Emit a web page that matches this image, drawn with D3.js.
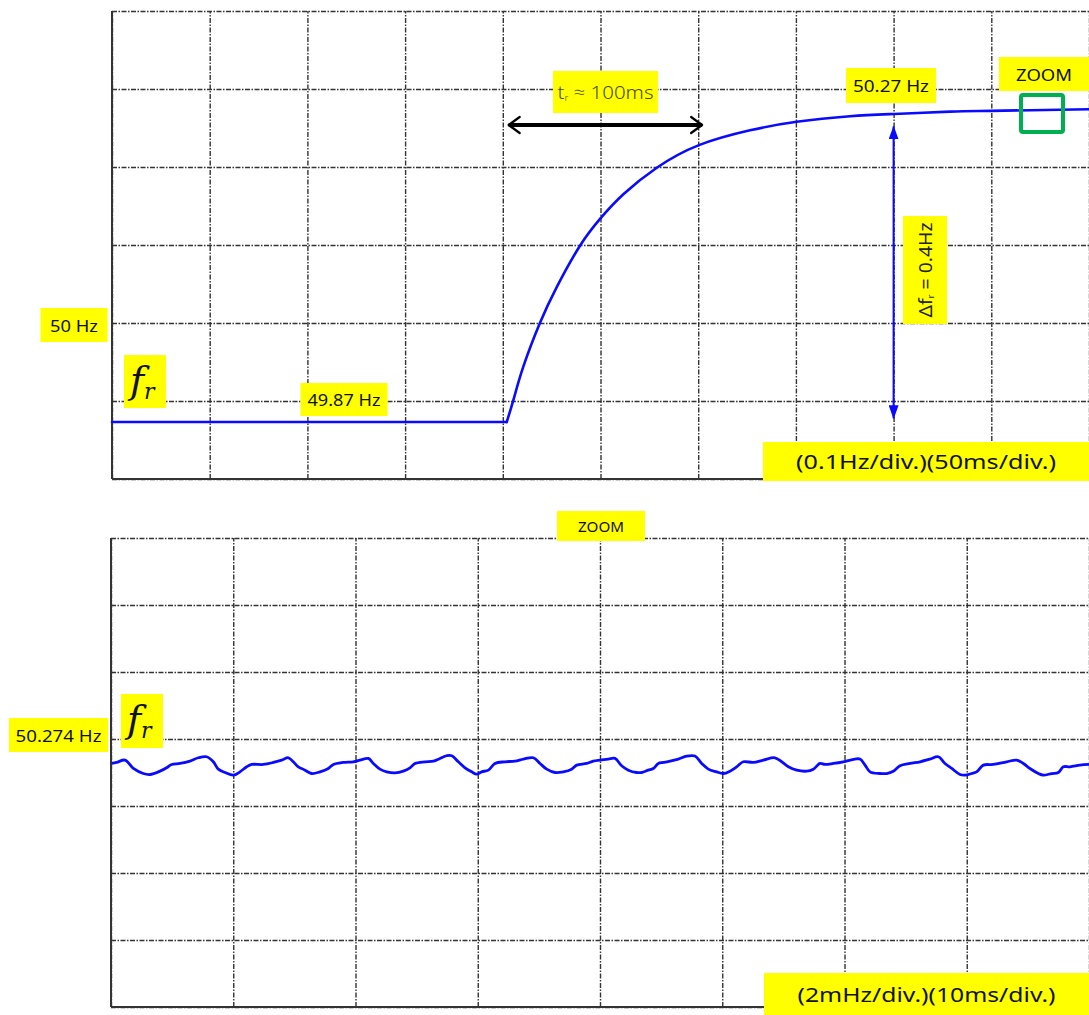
<!DOCTYPE html>
<html>
<head>
<meta charset="utf-8">
<script src="https://cdn.jsdelivr.net/npm/d3@7/dist/d3.min.js"></script>
<style>
  html, body { margin: 0; padding: 0; background: #fff; }
  svg { display: block; }
  .grid line { stroke: #333; stroke-width: 1.4; stroke-dasharray: 5 1.5 1.5 1.5; }
  .grid path { stroke: none; }
</style>
</head>
<body>
<script>
// ---------- DATA ----------
// Top panel: frequency step response (0.1 Hz/div, 50 ms/div)
const topTime = [0, 50, 100, 150, 202, 205.4, 210.5, 219, 227.6, 239.5, 250.3, 261.7, 278.8, 300.4, 326.5, 350.4, 377.7, 400.2, 428.9, 449.8, 500];
const topFreq = [49.873, 49.873, 49.873, 49.873, 49.873, 49.901, 49.944, 50.000, 50.046, 50.099, 50.135, 50.165, 50.199, 50.228, 50.247, 50.258, 50.265, 50.268, 50.271, 50.272, 50.274];
const stepIndex = 4; // index where the step begins
const topTimeTicks = [0, 50, 100, 150, 200, 250, 300, 350, 400, 450, 500];
const topFreqTicks = [49.8, 49.9, 50.0, 50.1, 50.2, 50.3, 50.4];

// Bottom panel: zoomed steady state (2 mHz/div, 10 ms/div)
const zoomTime = [0.05, 0.46, 1.15, 1.83, 2.64, 3.19, 4.01, 4.55, 4.96, 5.64, 6.46, 7.14, 7.83, 8.37, 8.78, 9.33, 10.01, 10.55, 11.10, 11.51, 12.46, 13.28, 13.96, 14.51, 14.91, 15.32, 15.87, 16.41, 17.10, 17.78, 18.19, 19.00, 19.82, 20.37, 21.05, 21.46, 22.00, 22.55, 23.23, 23.91, 24.46, 24.87, 25.69, 26.37, 26.91, 27.46, 27.87, 28.41, 28.96, 29.50, 29.91, 30.32, 30.87, 31.41, 32.23, 33.05, 33.73, 34.55, 35.09, 35.64, 36.32, 37.00, 37.68, 38.09, 38.91, 39.45, 40.00, 40.68, 41.23, 41.77, 42.32, 43.00, 43.41, 43.95, 44.36, 44.77, 45.18, 45.73, 46.41, 47.09, 47.77, 48.32, 48.86, 49.54, 50.09, 50.63, 51.18, 51.72, 52.54, 53.36, 54.31, 54.86, 55.41, 56.09, 56.91, 57.45, 58.00, 58.40, 59.09, 59.90, 60.86, 61.27, 61.68, 62.09, 62.90, 63.45, 63.99, 64.54, 65.36, 66.18, 66.99, 67.68, 68.22, 68.77, 69.45, 69.86, 70.40, 70.81, 71.36, 72.17, 73.27, 74.08, 74.63, 75.17, 75.86, 76.26, 76.95, 77.49, 77.90, 78.45, 79.26, 80.00];
const zoomFreq = [50.27327, 50.27330, 50.27337, 50.27312, 50.27297, 50.27294, 50.27304, 50.27314, 50.27324, 50.27327, 50.27334, 50.27344, 50.27347, 50.27332, 50.27310, 50.27300, 50.27292, 50.27302, 50.27317, 50.27324, 50.27324, 50.27330, 50.27337, 50.27344, 50.27332, 50.27317, 50.27307, 50.27297, 50.27302, 50.27312, 50.27324, 50.27330, 50.27332, 50.27337, 50.27342, 50.27327, 50.27310, 50.27302, 50.27299, 50.27304, 50.27314, 50.27327, 50.27332, 50.27334, 50.27342, 50.27350, 50.27350, 50.27332, 50.27314, 50.27302, 50.27295, 50.27302, 50.27307, 50.27327, 50.27332, 50.27334, 50.27340, 50.27344, 50.27327, 50.27310, 50.27300, 50.27302, 50.27310, 50.27322, 50.27327, 50.27334, 50.27337, 50.27340, 50.27342, 50.27320, 50.27307, 50.27300, 50.27300, 50.27307, 50.27312, 50.27327, 50.27330, 50.27334, 50.27340, 50.27349, 50.27349, 50.27327, 50.27310, 50.27302, 50.27297, 50.27304, 50.27317, 50.27332, 50.27330, 50.27337, 50.27344, 50.27332, 50.27317, 50.27307, 50.27304, 50.27310, 50.27327, 50.27324, 50.27327, 50.27332, 50.27340, 50.27340, 50.27322, 50.27302, 50.27297, 50.27297, 50.27304, 50.27320, 50.27327, 50.27332, 50.27340, 50.27347, 50.27327, 50.27312, 50.27294, 50.27292, 50.27297, 50.27302, 50.27322, 50.27324, 50.27332, 50.27337, 50.27327, 50.27312, 50.27297, 50.27292, 50.27297, 50.27300, 50.27317, 50.27317, 50.27322, 50.27324];
const zoomTimeTicks = [0, 10, 20, 30, 40, 50, 60, 70, 80];
const zoomFreqTicks = [50.266, 50.268, 50.270, 50.272, 50.274, 50.276, 50.278, 50.280];

// ---------- DRAW ----------
const W = 1089, H = 1015;
const SANS = "'Noto Sans', 'Open Sans', sans-serif";
const SERIF = "'DejaVu Serif', 'Liberation Serif', serif";
const svg = d3.select("body").append("svg").attr("width", W).attr("height", H);
const YEL = "#ffff00", BLUE = "#0a0aff";

const defs = svg.append("defs");
defs.append("marker").attr("id", "blueHead").attr("viewBox", "0 0 14 10")
  .attr("refX", 13).attr("refY", 5).attr("markerWidth", 7).attr("markerHeight", 5)
  .attr("markerUnits", "strokeWidth").attr("orient", "auto-start-reverse")
  .append("path").attr("d", "M0,0 L14,5 L0,10 Z").attr("fill", BLUE);
defs.append("marker").attr("id", "blackHead").attr("viewBox", "0 0 10 10")
  .attr("refX", 8.5).attr("refY", 5).attr("markerWidth", 5).attr("markerHeight", 5)
  .attr("markerUnits", "strokeWidth").attr("orient", "auto-start-reverse")
  .append("path").attr("d", "M3,1 L8.5,5 L3,9").attr("fill", "none")
  .attr("stroke", "#000").attr("stroke-width", 1.1).attr("stroke-linecap", "round").attr("stroke-linejoin", "round");

function panel(x, y, tTicks, fTicks) {
  const g = svg.append("g");
  const [x0, x1] = x.range();
  const [y0, y1] = y.range();
  g.append("g").attr("class", "grid").attr("transform", `translate(0,${y0})`)
    .call(d3.axisBottom(x).tickValues(tTicks).tickSize(-(y0 - y1)).tickFormat(""));
  g.append("g").attr("class", "grid").attr("transform", `translate(${x0},0)`)
    .call(d3.axisLeft(y).tickValues(fTicks).tickSize(-(x1 - x0)).tickFormat(""));
  g.append("line").attr("x1", x0).attr("x2", x0).attr("y1", y1).attr("y2", y0)
    .attr("stroke", "#333").attr("stroke-width", 2);
  g.append("line").attr("x1", x0).attr("x2", x1).attr("y1", y0).attr("y2", y0)
    .attr("stroke", "#333").attr("stroke-width", 2);
  return g;
}

function label(cx, cy, w, h, txt, size, opts = {}) {
  const g = svg.append("g").attr("transform", `translate(${cx},${cy}) rotate(${opts.rot || 0})`);
  g.append("rect").attr("x", -w / 2).attr("y", -h / 2).attr("width", w).attr("height", h).attr("fill", YEL);
  const t = g.append("text").attr("text-anchor", "middle").attr("dominant-baseline", "central")
    .style("font-family", SANS).style("font-size", size + "px").attr("fill", opts.color || "#111");
  if (opts.len) t.attr("textLength", opts.len).attr("lengthAdjust", "spacingAndGlyphs");
  if (typeof txt === "function") txt(t); else t.text(txt);
  return g;
}

function frLabel(cx, cy, w, h) {
  const g = svg.append("g");
  g.append("rect").attr("x", cx - w / 2).attr("y", cy - h / 2).attr("width", w).attr("height", h).attr("fill", YEL);
  const t = g.append("text").attr("x", cx - 15).attr("y", cy + 11)
    .style("font-family", SERIF).style("font-style", "italic").attr("fill", "#111");
  t.append("tspan").style("font-size", "38px").text("f");
  t.append("tspan").style("font-size", "22px").attr("dx", 0).attr("dy", 6).text("r");
}

// ---- Top panel ----
const xT = d3.scaleLinear().domain([0, 500]).range([112, 1089]);
const yT = d3.scaleLinear().domain([49.8, 50.4]).range([479, 11]);
panel(xT, yT, topTimeTicks, topFreqTicks);

const topData = topTime.map((t, i) => ({ t, f: topFreq[i] }));
const lineT = d3.line().x(d => xT(d.t)).y(d => yT(d.f));
svg.append("path").datum(topData.slice(0, stepIndex + 1))
  .attr("d", lineT.curve(d3.curveLinear))
  .attr("fill", "none").attr("stroke", BLUE).attr("stroke-width", 2.6).attr("stroke-linecap", "round");
svg.append("path").datum(topData.slice(stepIndex))
  .attr("d", lineT.curve(d3.curveNatural))
  .attr("fill", "none").attr("stroke", BLUE).attr("stroke-width", 2.6).attr("stroke-linecap", "round");

// rise-time arrow
svg.append("line").attr("x1", xT(203)).attr("x2", xT(302)).attr("y1", 125).attr("y2", 125)
  .attr("stroke", "#000").attr("stroke-width", 4)
  .attr("marker-start", "url(#blackHead)").attr("marker-end", "url(#blackHead)");
// delta-f arrow
svg.append("line").attr("x1", xT(400)).attr("x2", xT(400)).attr("y1", yT(50.252)).attr("y2", yT(49.878))
  .attr("stroke", BLUE).attr("stroke-width", 2)
  .attr("marker-start", "url(#blueHead)").attr("marker-end", "url(#blueHead)");

// zoom window
svg.append("rect").attr("x", 1021).attr("y", 95).attr("width", 42).attr("height", 37).attr("rx", 2)
  .attr("fill", "none").attr("stroke", "#00b050").attr("stroke-width", 4);

label(74, yT(50.0) + 2, 67, 34, "50 Hz", 17, { len: 48 });
label(344, 399.5, 87, 33, "49.87 Hz", 17, { len: 73 });
label(891, 85.5, 90, 35, "50.27 Hz", 17, { len: 76 });
label(1044, 74, 90, 34, "ZOOM", 17, { len: 56 });
frLabel(145, 381.5, 42, 53);
label(605.5, 92, 105, 42, t => {
  t.attr("fill", "#4a4a14").style("font-weight", 300).attr("textLength", 96).attr("lengthAdjust", "spacingAndGlyphs");
  t.append("tspan").text("t");
  t.append("tspan").style("font-size", "9px").attr("dy", 5).text("r");
  t.append("tspan").attr("dy", -5).text(" \u2248 100ms");
}, 19);
label(925, 270, 108, 44, t => {
  t.attr("fill", "#222").attr("textLength", 95).attr("lengthAdjust", "spacingAndGlyphs");
  t.append("tspan").text("\u0394f");
  t.append("tspan").style("font-size", "9px").attr("dy", 5).text("r");
  t.append("tspan").attr("dy", -5).text(" = 0.4Hz");
}, 18, { rot: -90 });
label(926, 461.5, 326, 39, "(0.1Hz/div.)(50ms/div.)", 20, { len: 260 });

// ---- Bottom panel ----
const xB = d3.scaleLinear().domain([0, 80]).range([111, 1089]);
const yB = d3.scaleLinear().domain([50.266, 50.280]).range([1007, 538]);
panel(xB, yB, zoomTimeTicks, zoomFreqTicks);

const zoomData = zoomTime.map((t, i) => ({ t, f: zoomFreq[i] }));
svg.append("path").datum(zoomData)
  .attr("d", d3.line().x(d => xB(d.t)).y(d => yB(d.f)).curve(d3.curveCatmullRom.alpha(0.5)))
  .attr("fill", "none").attr("stroke", BLUE).attr("stroke-width", 2.8).attr("stroke-linejoin", "round");

label(601, 526, 88, 30, "ZOOM", 15, { len: 46 });
label(58.5, yB(50.274) - 4, 99, 34, "50.274 Hz", 17, { len: 86 });
frLabel(142, 721, 42, 54);
label(926.5, 994, 325, 42, "(2mHz/div.)(10ms/div.)", 20, { len: 258 });
</script>
</body>
</html>
